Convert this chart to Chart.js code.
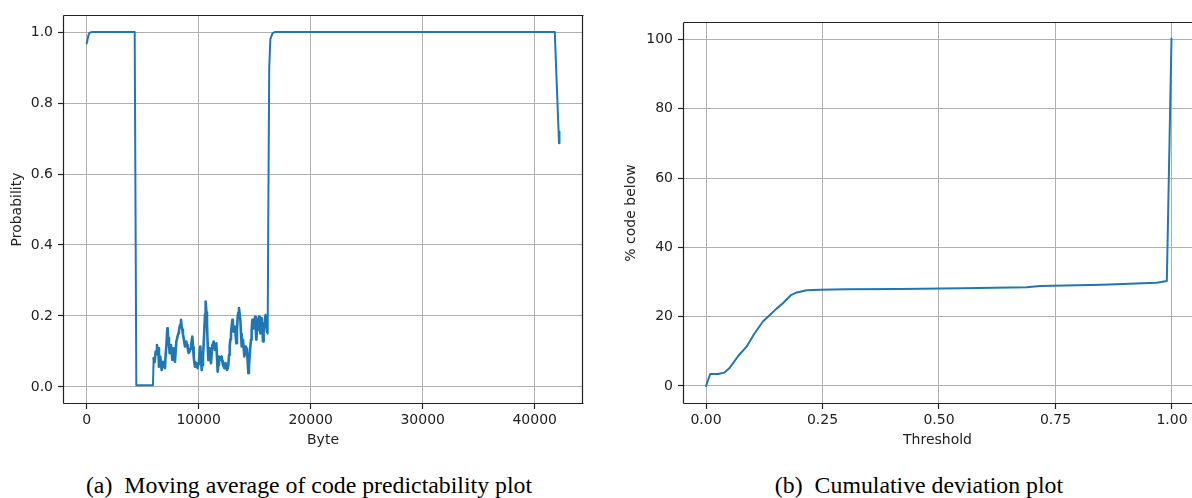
<!DOCTYPE html>
<html>
<head>
<meta charset="utf-8">
<script src="https://cdn.jsdelivr.net/npm/chart.js@4"></script>
<style>
  html, body { margin: 0; padding: 0; background: #fff; }
  body { width: 1192px; height: 498px; position: relative; overflow: hidden; }
  .box { position: absolute; top: 0; }
  .cap { position: absolute; top: 470px; transform: translateX(-50%); font-family: "Liberation Serif", "Times New Roman", serif; font-size: 23.8px; color: #000; white-space: nowrap; line-height: 30px; }
  .cap .lbl { margin-right: 12px; }
</style>
</head>
<body>
<div class="box" style="left:0px;"><canvas id="c1" width="590" height="450"></canvas></div>
<div class="box" style="left:600px;"><canvas id="c2" width="592" height="450"></canvas></div>
<div class="cap" id="capA" style="left:309px;"><span class="lbl">(a)</span>Moving average of code predictability plot</div>
<div class="cap" id="capB" style="left:919px;"><span class="lbl">(b)</span>Cumulative deviation plot</div>
<script>
// ---------- Data: (a) moving average of code predictability ----------
const byteOffsets = [
  0, 60, 150, 250, 500, 4290, 4435, 5920,
  5982, 6070, 6161, 6220, 6280, 6340, 6399, 6458, 6520, 6577, 6640, 6696, 6760, 6815, 6900, 6994, 7050, 7113, 7202, 7250, 7292, 7350, 7411, 7470, 7530, 7590, 7649, 7710, 7768, 7830, 7887,
  7950, 8006, 8100, 8185, 8240, 8304, 8360, 8423, 8480, 8542, 8600, 8661, 8720, 8780, 8840, 8899, 8960, 9018, 9100, 9196, 9250, 9315, 9380, 9435, 9500, 9554, 9610, 9673, 9730, 9792, 9850, 9911,
  9970, 10030, 10090, 10149, 10210, 10268, 10330, 10387, 10450, 10506, 10570, 10625, 10690, 10744, 10800, 10863, 10920, 10982, 11040, 11101, 11160, 11220, 11280, 11339, 11400, 11458, 11520, 11577, 11640, 11696, 11760, 11815, 11870, 11935,
  11990, 12054, 12110, 12173, 12230, 12292, 12350, 12411, 12470, 12530, 12590, 12649, 12710, 12768, 12830, 12887, 12950, 13006, 13060, 13125, 13180, 13244, 13300, 13363, 13420, 13482, 13540, 13601, 13660, 13720, 13780, 13839, 13900, 13958,
  14020, 14077, 14140, 14196, 14260, 14315, 14380, 14435, 14490, 14554, 14610, 14673, 14730, 14792, 14850, 14911, 14970, 15030, 15090, 15149, 15210, 15268, 15330, 15387, 15450, 15506, 15570, 15625, 15690, 15744, 15800, 15863, 15920, 15982,
  16040, 16101, 16161, 16220, 16300, 16400, 16600, 16800, 41790, 42170, 42190, 42210, 42230
];
const probability = [
  0.968, 0.975, 0.990, 0.998, 1.0, 1.0, 0.005, 0.005,
  0.081, 0.070, 0.100, 0.092, 0.118, 0.096, 0.109, 0.057, 0.075, 0.086, 0.062, 0.048, 0.060, 0.071, 0.064, 0.053, 0.090, 0.114, 0.165, 0.150, 0.137, 0.120, 0.095, 0.104, 0.118, 0.098, 0.076, 0.090, 0.109, 0.085, 0.071,
  0.102, 0.128, 0.140, 0.151, 0.158, 0.170, 0.176, 0.189, 0.172, 0.161, 0.148, 0.137, 0.126, 0.114, 0.120, 0.128, 0.118, 0.109, 0.096, 0.100, 0.108, 0.114, 0.130, 0.142, 0.112, 0.086, 0.070, 0.057, 0.064, 0.067, 0.058, 0.053,
  0.065, 0.076, 0.098, 0.114, 0.078, 0.048, 0.062, 0.086, 0.122, 0.161, 0.205, 0.241, 0.210, 0.180, 0.125, 0.076, 0.095, 0.109, 0.086, 0.067, 0.092, 0.118, 0.124, 0.128, 0.112, 0.104, 0.116, 0.123, 0.080, 0.043, 0.062, 0.086, 0.081, 0.076,
  0.080, 0.086, 0.072, 0.062, 0.058, 0.053, 0.060, 0.067, 0.055, 0.048, 0.052, 0.062, 0.090, 0.114, 0.134, 0.151, 0.172, 0.189, 0.168, 0.156, 0.163, 0.170, 0.146, 0.123, 0.160, 0.198, 0.210, 0.222, 0.205, 0.189, 0.150, 0.114, 0.124, 0.133,
  0.110, 0.086, 0.100, 0.114, 0.108, 0.104, 0.070, 0.039, 0.060, 0.086, 0.112, 0.133, 0.160, 0.189, 0.176, 0.165, 0.182, 0.198, 0.166, 0.133, 0.160, 0.184, 0.192, 0.198, 0.175, 0.151, 0.172, 0.194, 0.160, 0.128, 0.154, 0.180, 0.192, 0.203,
  0.180, 0.156, 0.150, 0.500, 0.900, 0.980, 0.997, 1.0, 1.0, 0.687, 0.720, 0.695, 0.715
];
const byteTicks = [0, 10000, 20000, 30000, 40000];
const byteTickLabels = ['0', '10000', '20000', '30000', '40000'];
const probTicks = [0, 0.2, 0.4, 0.6, 0.8, 1.0];
const probTickLabels = ['0.0', '0.2', '0.4', '0.6', '0.8', '1.0'];

// ---------- Data: (b) cumulative deviation ----------
const thresholds = [0, 0.009, 0.026, 0.039, 0.050, 0.069, 0.087, 0.102, 0.122, 0.137, 0.152, 0.165, 0.182, 0.195, 0.216, 0.245, 0.300, 0.416, 0.550, 0.688, 0.717, 0.850, 0.967, 0.989, 0.999];
const pctCodeBelow = [0, 3.46, 3.46, 3.85, 5.1, 8.66, 11.35, 14.7, 18.6, 20.5, 22.4, 23.9, 26.2, 27.0, 27.6, 27.8, 27.9, 28.0, 28.2, 28.5, 28.86, 29.2, 29.8, 30.3, 100.3];
const thrTicks = [0, 0.25, 0.5, 0.75, 1.0];
const thrTickLabels = ['0.00', '0.25', '0.50', '0.75', '1.00'];
const pctTicks = [0, 20, 40, 60, 80, 100];
const pctTickLabels = ['0', '20', '40', '60', '80', '100'];

// ---------- Styling ----------
const LINE = '#1f77b4';
const DARK = '#222222';
const GRID = '#b0b0b0';
const FONT = { family: '"DejaVu Sans", sans-serif', size: 14 };

const framePlugin = {
  id: 'frame',
  afterDatasetsDraw(chart, args, opts) {
    const a = chart.chartArea, ctx = chart.ctx;
    const L = Math.round(a.left) + 0.5, R = Math.round(a.right) - 0.5;
    const T = Math.round(a.top) + 0.5, B = Math.round(a.bottom) - 0.5;
    const sides = opts.sides || [];
    ctx.save();
    ctx.strokeStyle = DARK;
    ctx.lineWidth = 1.2;
    ctx.beginPath();
    if (sides.includes('left')) { ctx.moveTo(L, T); ctx.lineTo(L, B); }
    if (sides.includes('right')) { ctx.moveTo(R, T); ctx.lineTo(R, B); }
    if (sides.includes('top')) { ctx.moveTo(L, T); ctx.lineTo(R + 1, T); }
    if (sides.includes('bottom')) { ctx.moveTo(L, B); ctx.lineTo(R + 1, B); }
    ctx.stroke();
    ctx.restore();
  }
};

function axis(opts) {
  return {
    type: 'linear',
    min: opts.min, max: opts.max,
    afterBuildTicks: s => { s.ticks = opts.ticks.map(v => ({ value: v })); },
    afterFit: s => { if (opts.width !== undefined) s.width = opts.width; if (opts.height !== undefined) s.height = opts.height; },
    grid: { color: GRID, lineWidth: 1, drawTicks: true, tickLength: 5, tickColor: DARK, tickWidth: 1.2 },
    border: { display: false },
    ticks: {
      autoSkip: false, maxRotation: 0, minRotation: 0,
      color: DARK, font: FONT, padding: opts.pad,
      callback: (v) => { const i = opts.ticks.findIndex(t => Math.abs(t - v) < 1e-9); return i >= 0 ? opts.labels[i] : ''; }
    },
    title: { display: true, text: opts.title, color: DARK, font: FONT, padding: opts.titlePad }
  };
}

function makeChart(id, xs, ys, cfg) {
  const pts = xs.map((x, i) => ({ x: x, y: ys[i] }));
  return new Chart(document.getElementById(id), {
    type: 'line',
    data: { datasets: [{
      data: pts, borderColor: LINE, borderWidth: 2, pointRadius: 0, tension: 0, fill: false,
      borderJoinStyle: 'round', borderCapStyle: 'round',
      segment: cfg.segment || {}
    }] },
    options: {
      responsive: false, animation: false, devicePixelRatio: 1,
      layout: { padding: cfg.padding },
      plugins: { legend: { display: false }, tooltip: { enabled: false }, frame: { sides: cfg.sides } },
      scales: { x: axis(cfg.x), y: axis(cfg.y) }
    },
    plugins: [framePlugin]
  });
}

makeChart('c1', byteOffsets, probability, {
  padding: { top: 15, right: 7, left: 0, bottom: 0 },
  sides: ['left', 'right', 'top', 'bottom'],
  segment: { borderWidth: c => (c.p0.parsed.x > 5950 && c.p1.parsed.x < 16150) ? 2.6 : 2 },
  x: { min: -2110, max: 44310, ticks: byteTicks, labels: byteTickLabels, title: 'Byte', height: 46, pad: 3, titlePad: { top: 0, bottom: 1 } },
  y: { min: -0.048, max: 1.048, ticks: probTicks, labels: probTickLabels, title: 'Probability', width: 63, pad: 5, titlePad: { top: 9, bottom: 0 } }
});

makeChart('c2', thresholds, pctCodeBelow, {
  padding: { top: 22, right: 0, left: 0, bottom: 0 },
  sides: ['left', 'top', 'bottom'],
  x: { min: -0.0494, max: 1.043, ticks: thrTicks, labels: thrTickLabels, title: 'Threshold', height: 46, pad: 3, titlePad: { top: 0, bottom: 1 } },
  y: { min: -5.2, max: 105.05, ticks: pctTicks, labels: pctTickLabels, title: '% code below', width: 83, pad: 5, titlePad: { top: 23, bottom: 0 } }
});
</script>
</body>
</html>
